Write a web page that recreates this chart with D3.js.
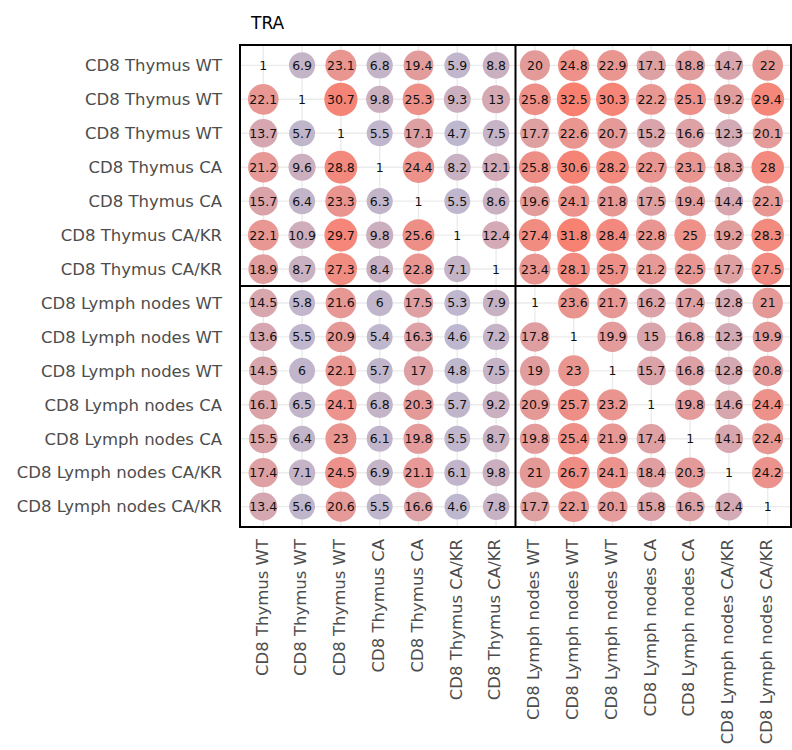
<!DOCTYPE html>
<html>
<head>
<meta charset="utf-8">
<script src="https://cdn.jsdelivr.net/npm/d3@7"></script>
<style>
  body { margin: 0; background: #fff; }
</style>
</head>
<body>
<div id="chart"></div>
<script>
// sample labels, same order on both axes
const samples = [
  "CD8 Thymus WT", "CD8 Thymus WT", "CD8 Thymus WT",
  "CD8 Thymus CA", "CD8 Thymus CA",
  "CD8 Thymus CA/KR", "CD8 Thymus CA/KR",
  "CD8 Lymph nodes WT", "CD8 Lymph nodes WT", "CD8 Lymph nodes WT",
  "CD8 Lymph nodes CA", "CD8 Lymph nodes CA",
  "CD8 Lymph nodes CA/KR", "CD8 Lymph nodes CA/KR"
];

// one row per y sample, one value per x sample
const values = [
  [1, 6.9, 23.1, 6.8, 19.4, 5.9, 8.8, 20, 24.8, 22.9, 17.1, 18.8, 14.7, 22],
  [22.1, 1, 30.7, 9.8, 25.3, 9.3, 13, 25.8, 32.5, 30.3, 22.2, 25.1, 19.2, 29.4],
  [13.7, 5.7, 1, 5.5, 17.1, 4.7, 7.5, 17.7, 22.6, 20.7, 15.2, 16.6, 12.3, 20.1],
  [21.2, 9.6, 28.8, 1, 24.4, 8.2, 12.1, 25.8, 30.6, 28.2, 22.7, 23.1, 18.3, 28],
  [15.7, 6.4, 23.3, 6.3, 1, 5.5, 8.6, 19.6, 24.1, 21.8, 17.5, 19.4, 14.4, 22.1],
  [22.1, 10.9, 29.7, 9.8, 25.6, 1, 12.4, 27.4, 31.8, 28.4, 22.8, 25, 19.2, 28.3],
  [18.9, 8.7, 27.3, 8.4, 22.8, 7.1, 1, 23.4, 28.1, 25.7, 21.2, 22.5, 17.7, 27.5],
  [14.5, 5.8, 21.6, 6, 17.5, 5.3, 7.9, 1, 23.6, 21.7, 16.2, 17.4, 12.8, 21],
  [13.6, 5.5, 20.9, 5.4, 16.3, 4.6, 7.2, 17.8, 1, 19.9, 15, 16.8, 12.3, 19.9],
  [14.5, 6, 22.1, 5.7, 17, 4.8, 7.5, 19, 23, 1, 15.7, 16.8, 12.8, 20.8],
  [16.1, 6.5, 24.1, 6.8, 20.3, 5.7, 9.2, 20.9, 25.7, 23.2, 1, 19.8, 14.6, 24.4],
  [15.5, 6.4, 23, 6.1, 19.8, 5.5, 8.7, 19.8, 25.4, 21.9, 17.4, 1, 14.1, 22.4],
  [17.4, 7.1, 24.5, 6.9, 21.1, 6.1, 9.8, 21, 26.7, 24.1, 18.4, 20.3, 1, 24.2],
  [13.4, 5.6, 20.6, 5.5, 16.6, 4.6, 7.8, 17.7, 22.1, 20.1, 15.8, 16.5, 12.4, 1]
];

const title = "TRA";
const groupSplit = 7; // first 7 samples are thymus

const width = 792, height = 750;
const margin = {top: 45, right: 1, bottom: 223, left: 240};
const w = width - margin.left - margin.right;
const h = height - margin.top - margin.bottom;
const labelFont = "DejaVu Sans, sans-serif";

let svg = d3.select("#chart")
    .append("svg")
    .attr("width", width)
    .attr("height", height)
    .style("font-family", labelFont);

let g = svg.append("g")
    .attr("transform", `translate(${margin.left}, ${margin.top})`);

const idx = d3.range(samples.length);

let x = d3.scalePoint().domain(idx).range([0, w]).padding(0.6);
let y = d3.scalePoint().domain(idx).range([0, h]).padding(0.6);

let cells = [];
values.forEach((row, i) => row.forEach((v, j) => cells.push({row: i, col: j, value: v})));
let offDiag = cells.filter(d => d.row !== d.col);

let color = d3.scaleLinear()
    .domain(d3.extent(offDiag, d => d.value))
    .range(["#bdb8d0", "#f98070"])
    .interpolate(d3.interpolateLab);

let radius = d3.scaleLinear()
    .domain(d3.extent(offDiag, d => d.value))
    .range([12.8, 16.9]);

// grid
g.append("g").selectAll("line").data(idx).enter().append("line")
    .attr("x1", d => x(d)).attr("x2", d => x(d))
    .attr("y1", 0).attr("y2", h)
    .attr("stroke", "#ebebeb").attr("stroke-width", 1.4);
g.append("g").selectAll("line").data(idx).enter().append("line")
    .attr("y1", d => y(d)).attr("y2", d => y(d))
    .attr("x1", 0).attr("x2", w)
    .attr("stroke", "#ebebeb").attr("stroke-width", 1.4);

// circles
g.selectAll("circle").data(offDiag).enter().append("circle")
    .attr("cx", d => x(d.col))
    .attr("cy", d => y(d.row))
    .attr("r", d => radius(d.value))
    .attr("fill", d => color(d.value));

// numbers
g.selectAll("text.val").data(cells).enter().append("text")
    .attr("class", "val")
    .attr("x", d => x(d.col))
    .attr("y", d => y(d.row))
    .attr("dy", "0.36em")
    .attr("text-anchor", "middle")
    .style("font-size", "12.5px")
    .attr("fill", "#111")
    .text(d => d.value);

// group dividers + frame
let splitX = x(groupSplit - 1) + x.step() / 2;
let splitY = y(groupSplit - 1) + y.step() / 2;
g.append("line").attr("x1", splitX).attr("x2", splitX).attr("y1", 0).attr("y2", h)
    .attr("stroke", "#000").attr("stroke-width", 2);
g.append("line").attr("y1", splitY).attr("y2", splitY).attr("x1", 0).attr("x2", w)
    .attr("stroke", "#000").attr("stroke-width", 2);
g.append("rect").attr("width", w).attr("height", h)
    .attr("fill", "none").attr("stroke", "#000").attr("stroke-width", 2);

// axes
let yAxis = g.append("g")
    .call(d3.axisLeft(y).tickSize(0).tickPadding(18).tickFormat(i => samples[i]));
yAxis.select(".domain").remove();
yAxis.selectAll("text")
    .style("font-size", "16.5px")
    .style("font-family", labelFont)
    .attr("fill", "#4d4d4d");

let xAxis = g.append("g")
    .attr("transform", `translate(0, ${h})`)
    .call(d3.axisBottom(x).tickSize(0).tickFormat(i => samples[i]));
xAxis.select(".domain").remove();
xAxis.selectAll("text")
    .attr("transform", "rotate(-90)")
    .attr("text-anchor", "end")
    .attr("x", -12)
    .attr("y", -2)
    .attr("dy", "0.35em")
    .style("font-size", "16.5px")
    .style("font-family", labelFont)
    .attr("fill", "#4d4d4d");

svg.append("text")
    .attr("x", 251)
    .attr("y", 29)
    .style("font-size", "17px")
    .attr("fill", "#000")
    .text(title);
</script>
</body>
</html>
